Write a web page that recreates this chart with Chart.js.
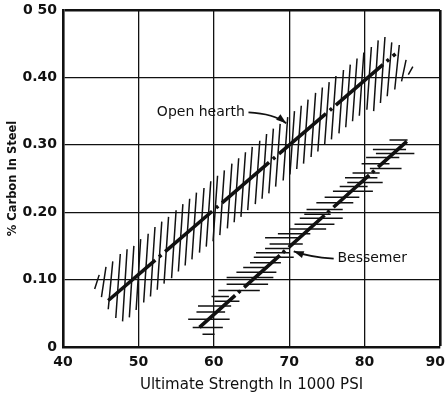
<!DOCTYPE html>
<html><head><meta charset="utf-8">
<script src="https://cdn.jsdelivr.net/npm/chart.js@4.4.1/dist/chart.umd.min.js"></script>
<style>html,body{margin:0;padding:0;background:#fff}canvas{display:block}</style>
</head><body>
<canvas id="c" width="446" height="395"></canvas>
<script>
// Axis ticks
const xTickValues = [40, 50, 60, 70, 80, 90];
const yTickLabels = ['0', '0.10', '0.20', '0.30', '0.40', '0 50'];

// Centre lines (Ultimate strength, % carbon)
const openHearthX = [46.0, 84.1];
const openHearthY = [0.069, 0.435];
const bessemerX = [58.1, 85.6];
const bessemerY = [0.029, 0.305];

// Open hearth scatter band: near-vertical hatches (x at bottom, bottom y, top y)
const ohHatchX  = [44.2,45.1,46.0,47.0,47.9,48.8,49.7,50.7,51.6,52.5,53.4,54.4,55.3,56.2,57.1,58.1,59.0,59.9,60.8,61.8,62.7,63.6,64.5,65.5,66.4,67.3,68.2,69.2,70.1,71.0,71.9,72.9,73.8,74.7,75.6,76.6,77.5,78.4,79.3,80.3,81.2,82.1,83.0,84.0,84.9,85.8];
const ohHatchLo = [0.086,0.074,0.056,0.043,0.038,0.044,0.055,0.066,0.075,0.085,0.094,0.102,0.112,0.121,0.130,0.140,0.149,0.157,0.166,0.176,0.185,0.193,0.203,0.212,0.220,0.228,0.238,0.247,0.256,0.264,0.272,0.282,0.290,0.300,0.308,0.317,0.326,0.335,0.343,0.352,0.350,0.362,0.372,0.382,0.394,0.404];
const ohHatchHi = [0.107,0.119,0.127,0.138,0.145,0.150,0.160,0.168,0.178,0.186,0.193,0.203,0.212,0.220,0.229,0.236,0.246,0.254,0.262,0.272,0.280,0.289,0.297,0.306,0.316,0.324,0.331,0.341,0.350,0.358,0.367,0.377,0.385,0.393,0.402,0.411,0.419,0.428,0.437,0.445,0.455,0.460,0.452,0.448,0.426,0.416];
const OH_LEAN = 0.6;

// Bessemer scatter band: horizontal hatches (y, left x, right x)
const bsHatchY  = [0.019,0.029,0.041,0.052,0.061,0.068,0.075,0.084,0.093,0.103,0.111,0.118,0.125,0.133,0.140,0.146,0.153,0.162,0.168,0.175,0.182,0.191,0.197,0.204,0.214,0.222,0.231,0.238,0.244,0.251,0.258,0.265,0.272,0.281,0.287,0.293,0.307];
const bsHatchX1 = [58.5,57.2,56.6,57.7,57.9,60.1,59.7,60.6,61.7,61.7,63.0,63.9,64.8,65.3,65.6,66.8,67.4,66.8,68.5,70.0,70.7,71.4,72.0,72.3,73.6,74.7,75.8,76.7,77.7,77.4,78.4,80.7,79.6,80.2,81.5,81.1,83.3];
const bsHatchX2 = [60.1,61.2,62.1,61.5,62.3,63.4,62.0,66.1,67.2,67.9,68.3,67.2,68.9,70.6,70.1,70.1,71.8,71.4,72.8,74.9,76.0,77.1,75.5,77.1,78.5,79.3,81.1,80.4,82.4,81.7,82.0,84.9,83.3,84.6,86.6,85.5,85.7];

// Annotation labels (data units)
const labels = [
  {text: 'Open hearth', x: 52.45, y: 0.348, arrow: [[64.6,0.348],[68.0,0.346],[69.6,0.332]]},
  {text: 'Bessemer',    x: 76.4,  y: 0.132, arrow: [[75.9,0.131],[72.6,0.134],[70.6,0.142]]}
];

const ohLineData = openHearthX.map((x,i)=>({x, y: openHearthY[i]}));
const bsLineData = bessemerX.map((x,i)=>({x, y: bessemerY[i]}));
const ohHatchData = [];
ohHatchX.forEach((x,i)=>{
  ohHatchData.push({x, y: ohHatchLo[i]}, {x: x + OH_LEAN, y: ohHatchHi[i]}, {x: x + OH_LEAN, y: null});
});
const bsHatchData = [];
bsHatchY.forEach((y,i)=>{
  bsHatchData.push({x: bsHatchX1[i], y}, {x: bsHatchX2[i], y}, {x: bsHatchX2[i], y: null});
});

const INK = '#111';

const annot = {
  id: 'annot',
  afterDatasetsDraw(chart) {
    const {ctx, scales: {x, y}} = chart;
    ctx.save();
    ctx.fillStyle = INK; ctx.strokeStyle = INK;
    ctx.font = '14px "DejaVu Sans"';
    ctx.textBaseline = 'middle';
    ctx.textAlign = 'left';
    labels.forEach(l => {
      ctx.fillText(l.text, x.getPixelForValue(l.x), y.getPixelForValue(l.y));
      const p = l.arrow.map(a => [x.getPixelForValue(a[0]), y.getPixelForValue(a[1])]);
      ctx.lineWidth = 1.8;
      ctx.beginPath();
      ctx.moveTo(p[0][0], p[0][1]);
      ctx.quadraticCurveTo(p[1][0], p[1][1], p[2][0], p[2][1]);
      ctx.stroke();
      const ang = Math.atan2(p[2][1]-p[1][1], p[2][0]-p[1][0]);
      const L = 10, W = 3.5;
      ctx.beginPath();
      ctx.moveTo(p[2][0], p[2][1]);
      ctx.lineTo(p[2][0] - L*Math.cos(ang) + W*Math.sin(ang), p[2][1] - L*Math.sin(ang) - W*Math.cos(ang));
      ctx.lineTo(p[2][0] - L*Math.cos(ang) - W*Math.sin(ang), p[2][1] - L*Math.sin(ang) + W*Math.cos(ang));
      ctx.closePath();
      ctx.fill();
    });
    ctx.restore();
  }
};

new Chart(document.getElementById('c'), {
  type: 'line',
  data: {
    datasets: [
      {data: ohHatchData, borderColor: INK, borderWidth: 1.5, pointRadius: 0, spanGaps: false, tension: 0},
      {data: bsHatchData, borderColor: INK, borderWidth: 1.5, pointRadius: 0, spanGaps: false, tension: 0},
      {data: ohLineData, borderColor: INK, borderWidth: 3.6, pointRadius: 0, borderDash: [62,5,3,5], borderCapStyle: 'butt'},
      {data: bsLineData, borderColor: INK, borderWidth: 3.6, pointRadius: 0, borderDash: [48,4,3,5], borderCapStyle: 'butt'}
    ]
  },
  options: {
    responsive: false,
    animation: false,
    events: [],
    layout: {padding: {top: 10, right: 6, left: 0, bottom: 0}},
    plugins: {legend: {display: false}, tooltip: {enabled: false}},
    scales: {
      x: {
        type: 'linear', min: 40, max: 90,
        afterBuildTicks: s => { s.ticks = xTickValues.map(v => ({value: v})); },
        afterFit: s => { s.height = 48; s.paddingLeft = 0; s.paddingRight = 0; },
        ticks: {
          color: INK, padding: 7, maxRotation: 0, autoSkip: false,
          font: {family: 'DejaVu Sans', size: 14, weight: 'bold'},
          callback: (v) => v === 90 ? '90\u00a0\u00a0' : String(v)
        },
        grid: {color: INK, drawTicks: false, lineWidth: c => (c.tick && c.tick.value === 90) ? 2.6 : 1.3},
        border: {color: INK, width: 2.6},
        title: {display: true, text: 'Ultimate Strength In 1000 PSI', color: INK,
          font: {family: 'DejaVu Sans', size: 15}, padding: {top: 0, bottom: 1}}
      },
      y: {
        type: 'linear', min: 0, max: 0.5,
        afterBuildTicks: s => { s.ticks = yTickLabels.map((t, i) => ({value: i / 10})); },
        afterFit: s => { s.width = 63; s.paddingTop = 0; s.paddingBottom = 0; },
        ticks: {
          color: INK, padding: 6, autoSkip: false,
          font: {family: 'DejaVu Sans', size: 14, weight: 'bold'},
          callback: (v, i) => yTickLabels[i]
        },
        grid: {color: INK, drawTicks: false, lineWidth: c => (c.tick && c.index === yTickLabels.length - 1) ? 2.6 : 1.3},
        border: {color: INK, width: 2.6},
        title: {display: true, text: '% Carbon In Steel', color: INK,
          font: {family: 'DejaVu Sans', size: 11.5, weight: 'bold'}, padding: {top: 6, bottom: 0}}
      }
    }
  },
  plugins: [annot]
});
</script>
</body></html>
